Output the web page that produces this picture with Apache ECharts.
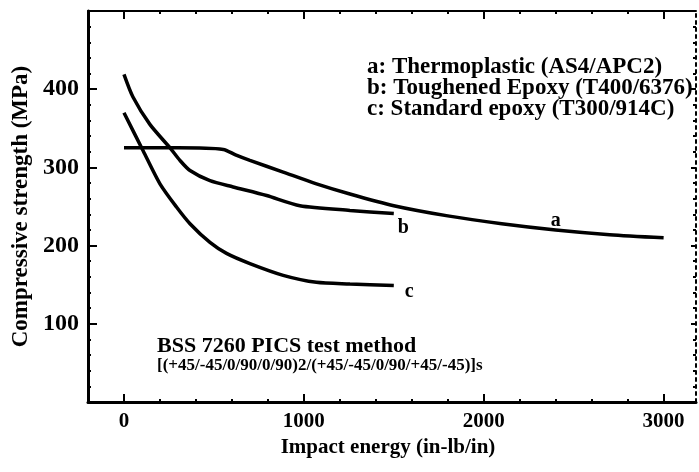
<!DOCTYPE html>
<html>
<head>
<meta charset="utf-8">
<script src="https://cdn.jsdelivr.net/npm/echarts@6/dist/echarts.min.js"></script>
<style>
html,body{margin:0;padding:0;background:#fff;}
#chart{width:699px;height:472px;}
</style>
</head>
<body>
<div id="chart"></div>
<script>
// ---- data ----
const seriesNames = ['a', 'b', 'c'];
const legendLines = [
  'a: Thermoplastic (AS4/APC2)',
  'b: Toughened Epoxy (T400/6376)',
  'c: Standard epoxy (T300/914C)'
];
const noteLines = [
  'BSS 7260 PICS test method',
  '[(+45/-45/0/90/0/90)2/(+45/-45/0/90/+45/-45)]s'
];
const xTickLabels = [0, 1000, 2000, 3000];
const yTickLabels = [100, 200, 300, 400];
const xMinorTicks = [-200, 0, 200, 400, 600, 800, 1000, 1200, 1400, 1600, 1800, 2000, 2200, 2400, 2600, 2800, 3000];

// curve a: Thermoplastic (AS4/APC2)
const curveA = [[0,325],[300,325],[552,323],[620,316],[700,309],[885,294],[1070,279],[1256,266],[1500,251],[1800,238],[2100,228],[2400,220],[2700,214],[3000,210]];
// curve b: Toughened Epoxy (T400/6376)
const curveB = [[0,419],[50,390],[144,355],[256,325],[311,309],[367,296],[478,283],[607,275],[793,264],[978,251],[1256,245],[1500,241]];
// curve c: Standard epoxy (T300/914C)
const curveC = [[0,370],[107,321],[200,279],[293,249],[367,228],[478,204],[570,190],[700,177],[885,162],[1070,153],[1256,151],[1500,149]];
const labelAtX = 2400;

// ---- chart ----
const FONT = '"Liberation Serif", "Times New Roman", serif';
const chart = echarts.init(document.getElementById('chart'), null, {renderer: 'canvas'});

const xMin = -200, xMax = 3180;
const frameLine = {color: '#000', width: 3};
const curveLabel = {fontFamily: FONT, fontWeight: 'bold', fontSize: 20, color: '#000'};

function lineSeries(name, pts, extra) {
  return Object.assign({
    name: name,
    type: 'line',
    xAxisIndex: 0, yAxisIndex: 0,
    smooth: 0.25,
    symbol: 'none',
    lineStyle: {color: '#000', width: 3.5},
    data: pts,
    z: 5
  }, extra || {});
}

const option = {
  backgroundColor: '#fff',
  animation: false,
  grid: {left: 88, right: 2, top: 11, bottom: 70},
  xAxis: [
    { type: 'value', position: 'bottom', min: xMin, max: xMax, interval: 200,
      splitLine: {show: false},
      axisLine: {onZero: false, lineStyle: frameLine},
      axisTick: {inside: true, length: 3, lineStyle: {color: '#000', width: 2}},
      axisLabel: {
        margin: 9, color: '#000', fontFamily: FONT, fontWeight: 'bold', fontSize: 21,
        formatter: v => xTickLabels.indexOf(v) >= 0 ? String(v) : ''
      },
      name: 'Impact energy (in-lb/in)', nameLocation: 'middle', nameGap: 35,
      nameTextStyle: {color: '#000', fontFamily: FONT, fontWeight: 'bold', fontSize: 21, padding: [0, 8, 0, 0]}
    },
    { type: 'value', position: 'bottom', min: xMin, max: xMax,
      splitLine: {show: false}, axisLine: {show: false, onZero: false}, axisLabel: {show: false},
      axisTick: {inside: true, length: 8, customValues: xTickLabels, lineStyle: {color: '#000', width: 2}}
    },
    { type: 'value', position: 'top', min: xMin, max: xMax,
      splitLine: {show: false}, axisLine: {onZero: false, lineStyle: {color: '#000', width: 2}}, axisLabel: {show: false},
      axisTick: {inside: true, length: 3, customValues: xMinorTicks, lineStyle: {color: '#000', width: 2}}
    },
    { type: 'value', position: 'top', min: xMin, max: xMax,
      splitLine: {show: false}, axisLine: {show: false, onZero: false}, axisLabel: {show: false},
      axisTick: {inside: true, length: 8, customValues: xTickLabels, lineStyle: {color: '#000', width: 2}}
    }
  ],
  yAxis: [
    { type: 'value', position: 'left', min: 0, max: 500, interval: 100,
      splitLine: {show: false},
      axisLine: {onZero: false, lineStyle: frameLine},
      axisTick: {inside: true, length: 9, lineStyle: {color: '#000', width: 2}},
      minorTick: {show: true, splitNumber: 5, length: 3, lineStyle: {color: '#000', width: 2}},
      axisLabel: {
        margin: 9, color: '#000', fontFamily: FONT, fontWeight: 'bold', fontSize: 24,
        formatter: v => yTickLabels.indexOf(v) >= 0 ? String(v) : ''
      },
      name: 'Compressive strength (MPa)', nameLocation: 'middle', nameGap: 54,
      nameTextStyle: {color: '#000', fontFamily: FONT, fontWeight: 'bold', fontSize: 23}
    },
    { type: 'value', position: 'right', min: 0, max: 500, interval: 100,
      splitLine: {show: false},
      axisLine: {onZero: false, lineStyle: {color: '#000', width: 2, type: [3, 4]}},
      axisTick: {inside: true, length: 5, lineStyle: {color: '#000', width: 2}},
      minorTick: {show: true, splitNumber: 5, length: 3, lineStyle: {color: '#000', width: 2}},
      axisLabel: {show: false}
    }
  ],
  series: [
    lineSeries(seriesNames[0], curveA, {
      markPoint: {
        symbol: 'circle', symbolSize: 0, silent: true,
        data: [{
          coord: curveA.find(p => p[0] === labelAtX),
          label: Object.assign({show: true, formatter: seriesNames[0], position: 'top', distance: -1}, curveLabel)
        }]
      }
    }),
    lineSeries(seriesNames[1], curveB, {
      endLabel: Object.assign({show: true, formatter: seriesNames[1], offset: [-4, 14]}, curveLabel)
    }),
    lineSeries(seriesNames[2], curveC, {
      endLabel: Object.assign({show: true, formatter: seriesNames[2], offset: [3, 6]}, curveLabel)
    })
  ],
  graphic: [
    ...legendLines.map((t, i) => ({
      type: 'text', left: 367, top: 56 + i * 21,
      style: {text: t, fill: '#000', font: 'bold 23px ' + FONT}
    })),
    {
      type: 'text', left: 157, top: 335,
      style: {text: noteLines[0], fill: '#000', font: 'bold 22px ' + FONT}
    },
    {
      type: 'text', left: 157, top: 357,
      style: {text: noteLines[1], fill: '#000', font: 'bold 17px ' + FONT}
    }
  ]
};
chart.setOption(option);
</script>
</body>
</html>
